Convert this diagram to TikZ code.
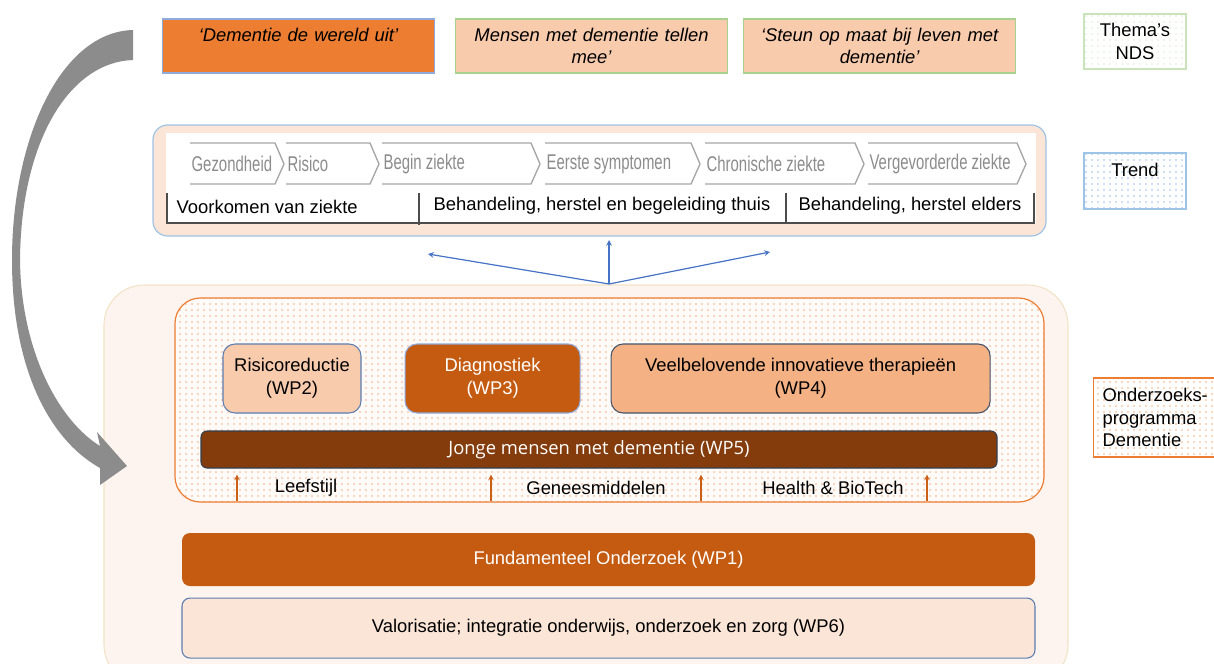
\documentclass[tikz,border=0pt]{standalone}
\usepackage{fontspec}
\setmainfont{Liberation Sans}
\newfontfamily\narrowfont[FakeStretch=0.7]{Liberation Sans}
\newfontfamily\opensans{Open Sans}
\usetikzlibrary{shapes.geometric, arrows, positioning, patterns.meta}

\newcommand{\basefont}{\fontsize{13.8}{17}\selectfont}

\definecolor{hotorange}{HTML}{ED7D31}
\definecolor{peach}{HTML}{F8CBAD}
\definecolor{rust}{HTML}{C55A11}
\definecolor{apricot}{HTML}{F4B183}
\definecolor{wpbrown}{HTML}{843C0C}
\definecolor{blush}{HTML}{FBE5D6}
\definecolor{cream}{HTML}{FDF4EF}
\definecolor{creamline}{HTML}{F2E2C6}
\definecolor{frameblue}{HTML}{8FAADC}
\definecolor{trendblue}{HTML}{9DC3E6}
\definecolor{leafgreen}{HTML}{A9D18E}
\definecolor{slateblue}{HTML}{5B7DB1}
\definecolor{slate}{HTML}{44546A}
\definecolor{navy}{HTML}{333F50}
\definecolor{arrowblue}{HTML}{4472C4}
\definecolor{stagegray}{HTML}{A6A6A6}
\definecolor{stagetext}{HTML}{8C8C8C}

\tikzstyle{theme} = [rectangle, minimum width=204pt, minimum height=40.5pt,
text width=196pt, align=center, inner sep=0pt, line width=0.8pt,
font=\basefont\itshape]
\tikzstyle{themehot} = [theme, fill=hotorange, draw=frameblue]
\tikzstyle{themesoft} = [theme, fill=peach, draw=leafgreen]
\tikzstyle{legend} = [rectangle, minimum width=76.5pt, minimum height=41.25pt,
align=center, line width=0.8pt, preaction={fill=white},
pattern={Dots[distance=4.5pt, radius=0.6pt]}]
\tikzstyle{trendbox} = [rectangle, rounded corners=11pt, fill=blush,
draw=trendblue, line width=0.9pt, minimum width=669.75pt, minimum height=83.25pt]
\tikzstyle{stagelabel} = [anchor=west, inner sep=1pt, text=stagetext,
font=\narrowfont\fontsize{16}{18}\selectfont]
\tikzstyle{stageline} = [stagegray, line width=1pt]
\tikzstyle{phaseline} = [black!70, line width=0.9pt]
\tikzstyle{bluearrow} = [arrowblue, line width=0.9pt, ->, >=stealth]
\tikzstyle{uparrow} = [rust!85!hotorange, line width=0.9pt, ->, >=stealth]
\tikzstyle{programbox} = [rectangle, rounded corners=30pt, fill=cream,
draw=creamline, line width=0.8pt, minimum width=723pt, minimum height=300pt]
\tikzstyle{dotframe} = [rectangle, rounded corners=19pt, draw=hotorange,
line width=0.9pt, preaction={fill=white!55!cream},
pattern={Dots[distance=4.5pt, radius=0.65pt]}, pattern color=apricot,
minimum width=651.75pt, minimum height=153pt]
\tikzstyle{wp} = [rectangle, rounded corners=9pt, minimum height=51.75pt,
align=center, line width=0.8pt]
\tikzstyle{bar} = [rectangle, rounded corners=6pt, minimum width=639.75pt,
align=center, line width=0.8pt]

\begin{document}
\begin{tikzpicture}[x=0.75pt, y=-0.75pt, font=\basefont]
\useasboundingbox (0,0) rectangle (1214,664);

% themes of the NDS
\node (dementie) [themehot] at (298.5,46) {‘Dementie de wereld uit’\\\mbox{}};
\node (tellen) [themesoft, right=15pt of dementie] {Mensen met dementie tellen\\mee’};
\node (steun) [themesoft, right=11.25pt of tellen] {‘Steun op maat bij leven met\\dementie’};
\node (nds) [legend, draw=leafgreen!60, pattern color=leafgreen!40] at (1135,41.5) {Thema’s\\NDS};

% trend
\node (trendframe) [trendbox] at (599.5,180.5) {};
\node (strip) [rectangle, fill=white, minimum width=652.5pt, minimum height=68.25pt,
inner sep=0pt] at (601,178.5) {};
\foreach \a/\b/\t [count=\i] in {190/284/Gezondheid, 286/379/Risico,
382/540/Begin ziekte, 545/700/Eerste symptomen, 705/864/Chronische ziekte,
868/1026/Vergevorderde ziekte}{
  \node (stage\i) [stagelabel] at (\a,164) {\t};
  \draw[stageline] (\a,143) -- (\b-9,143) -- (\b,164) -- (\b-9,184) -- (\a,184);
}
\node (prevent) [anchor=west] at (172,207) {Voorkomen van ziekte};
\node (home) at (602,206) {Behandeling, herstel en begeleiding thuis};
\node (elsewhere) at (910,206) {Behandeling, herstel elders};
\draw[phaseline] (167,193) -- (167,223) -- (1034,223) -- (1034,193);
\draw[phaseline] (419,193) -- (419,225);
\draw[phaseline] (786,193) -- (786,223);
\node (trendkey) [legend, draw=trendblue, pattern color=trendblue, minimum height=42pt]
at (1135,181) {Trend\\\mbox{}};

% programme
\node (program) [programbox] at (586,485) {};
\coordinate (hub) at (609,284);
\coordinate (toleft) at (428,254);
\coordinate (toup) at (609,240);
\coordinate (toright) at (770,252);
\draw[bluearrow] (hub) -- (toleft);
\draw[bluearrow] (hub) -- (toup);
\draw[bluearrow] (hub) -- (toright);

\node (inner) [dotframe] at (609.5,400) {};
\node (wp2) [wp, fill=peach, draw=slateblue, minimum width=103.5pt] at (292,378.5)
{Risicoreductie\\(WP2)};
\node (wp3) [wp, fill=rust, draw=frameblue, text=white, minimum width=131.25pt,
right=32.25pt of wp2] {Diagnostiek\\(WP3)};
\node (wp4) [wp, fill=apricot, draw=slate, minimum width=284.25pt,
right=22.5pt of wp3] {Veelbelovende innovatieve therapieën\\(WP4)};
\node (wp5) [rectangle, rounded corners=4.5pt, fill=wpbrown, draw=navy, line width=0.8pt,
minimum width=597pt, minimum height=27.75pt, text=white, font=\opensans\basefont]
at (599,449.5) {Jonge mensen met dementie (WP5)};
\draw[white, line width=0.9pt] ([xshift=8pt, yshift=-1.5pt]wp5.south west)
-- ([yshift=-1.5pt]wp5.south east);
\node (leefstijl) at (306,488) {Leefstijl};
\node (middelen) at (596,488) {Geneesmiddelen};
\node (biotech) at (833,488) {Health \& BioTech};
\foreach \x in {237,491,701,927}
  \draw[uparrow] ([yshift=1.5pt]inner.south -| \x,0) -- ([yshift=-4.5pt]wp5.south -| \x,0);

\node (wp1) [bar, fill=rust, text=white, minimum height=39.75pt] at (608.5,559.5)
{Fundamenteel Onderzoek (WP1)};
\node (wp6) [bar, fill=blush, draw=slateblue, minimum height=45pt, below=8.25pt of wp1]
{Valorisatie; integratie onderwijs, onderzoek en zorg (WP6)};

\node (programkey) [rectangle, anchor=west, draw=hotorange, line width=0.8pt,
preaction={fill=white}, pattern={Dots[distance=4.5pt, radius=0.6pt]},
pattern color=apricot, minimum height=59.25pt, text width=100pt, align=left,
inner xsep=6.75pt] at (1093,417.5) {Onderzoeks-\\programma\\Dementie};

% loop back
\fill[black!45] (133,30) .. controls (60,32) and (12,140) .. (12,260)
.. controls (12,370) and (50,440) .. (100,468) -- (100,485) -- (127,466)
-- (97,432) -- (100,446) .. controls (58,420) and (21,350) .. (20,260)
.. controls (21,140) and (70,62) .. (133,60) -- cycle;

\end{tikzpicture}
\end{document}
